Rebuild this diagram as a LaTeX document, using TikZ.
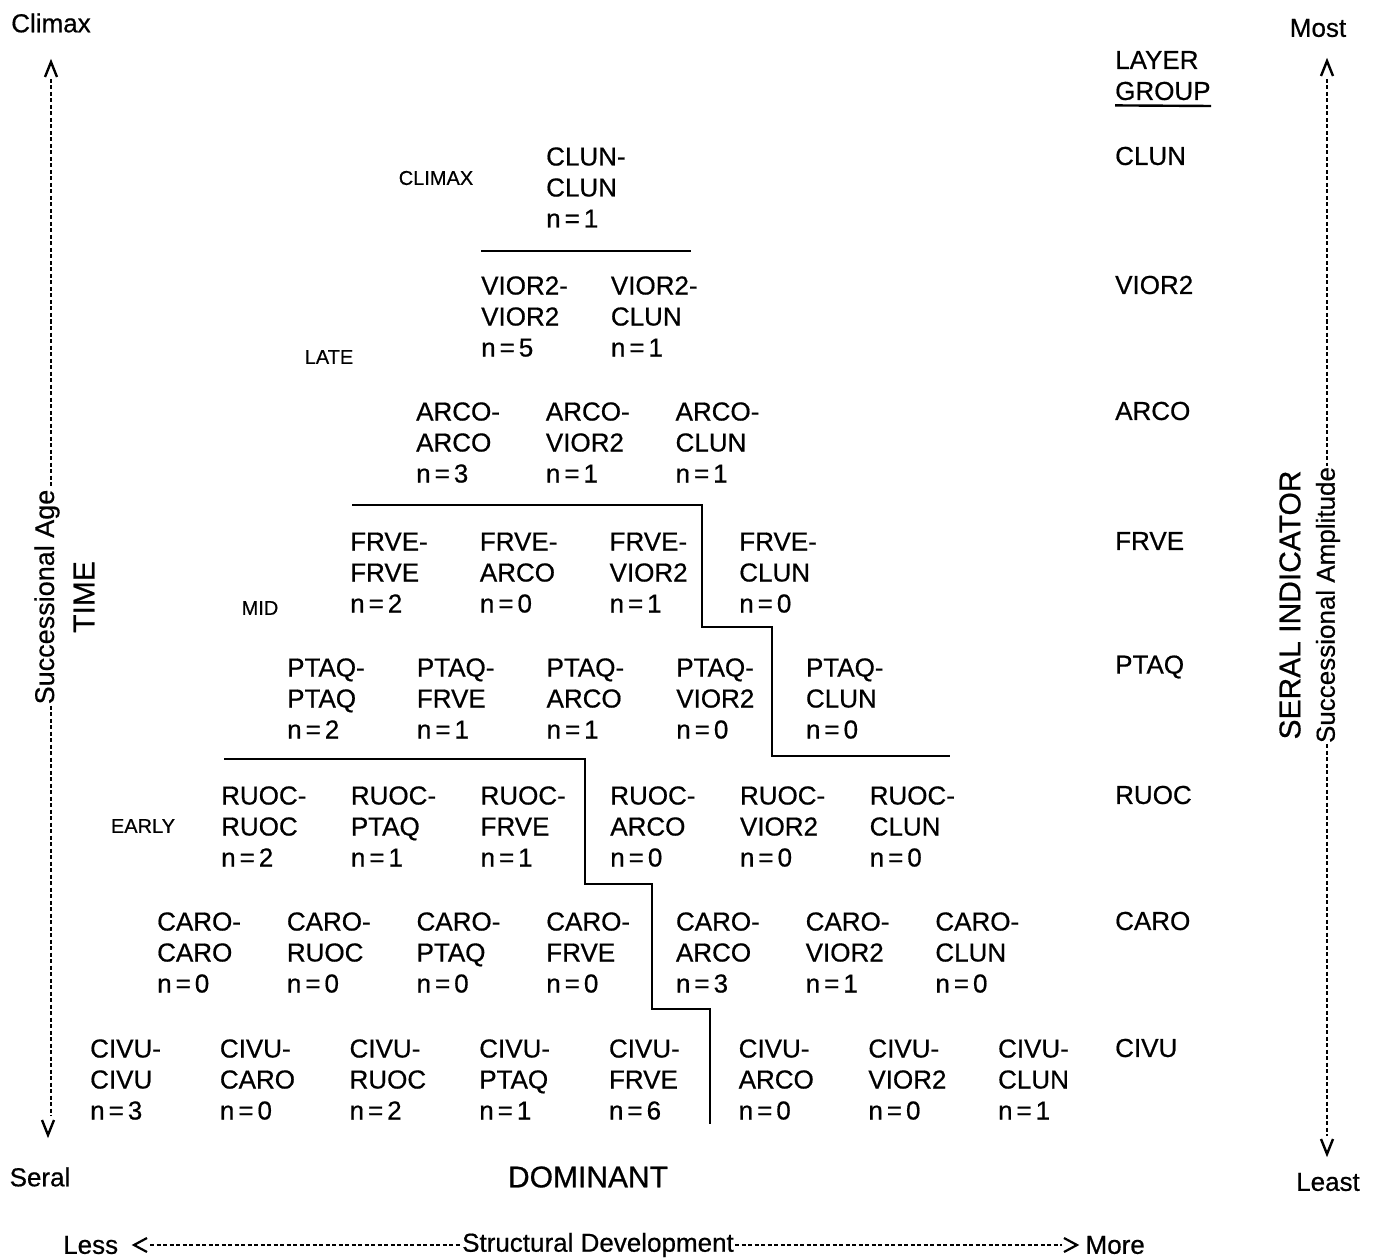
\documentclass[tikz,border=0pt]{standalone}
\usepackage{fontspec}
\setmainfont{Liberation Sans}[FakeBold=0.6]
\begin{document}
\begin{tikzpicture}[x=1pt,y=-1pt,
  cell/.style={anchor=west,align=left,inner sep=0pt,font=\fontsize{26}{31}\selectfont},
  group/.style={anchor=west,inner sep=0pt,font=\fontsize{26}{31}\selectfont},
  stage/.style={inner sep=0pt,font=\fontsize{20}{24}\selectfont},
  axislabel/.style={inner sep=1pt,font=\fontsize{26}{31}\selectfont},
  bigtitle/.style={inner sep=0pt,font=\fontsize{30}{36}\selectfont},
  divider/.style={line width=2.6pt},
  dotted axis/.style={line width=2.4pt,dash pattern=on 4pt off 2.5pt},
  chevron/.style={line width=2.4pt,line join=miter}
]
\useasboundingbox (0,0) rectangle (1374,1260);

% fixed line height so every cell box has the same size
\def\ls{\rule[-6pt]{0pt}{25pt}}
% count label with open spacing round the equals sign
\def\cnt#1{n\kern4pt=\kern4pt#1}

% species, ordered from seral to climax
\def\species{{"CIVU","CARO","RUOC","PTAQ","FRVE","ARCO","VIOR2","CLUN"}}

% dominant / layer-group cells with plot counts
\foreach \r/\xs/\ys/\counts in {
    0/90/1048/{3,0,2,1,6,0,0,1},
    1/157/921/{0,0,0,0,3,1,0},
    2/221/795/{2,1,1,0,0,0},
    3/287/667/{2,1,1,0,0},
    4/350/541/{2,0,1,0},
    5/416/411/{3,1,1},
    6/481/285/{5,1},
    7/546/156/{1}}{
  \pgfmathparse{\species[\r]}\let\first\pgfmathresult
  \foreach \n [count=\c from 0] in \counts {
    \pgfmathtruncatemacro\k{\r+\c}
    \pgfmathparse{\species[\k]}\let\second\pgfmathresult
    \node[cell] (c\r\c) at ({\xs+129.7*\c},{\ys+34}) {\ls\first-\\\ls\second\\\ls\cnt{\n}};
  }
}

% layer group column
\node[group] (hdrA) at (1115,60) {LAYER};
\node[group] (hdrB) at (1115,91) {GROUP};
\draw[line width=2.4pt] (hdrB.south west) ++(0,5) coordinate (ulA) -- (1211,106) coordinate (ulB);
\foreach \s/\y in {CIVU/1048,CARO/921,RUOC/795,PTAQ/667,FRVE/541,ARCO/411,VIOR2/285,CLUN/156}
  \node[group] (g\s) at (1115,\y) {\s};

% successional stages
\node[stage] (climax) at (436,178) {CLIMAX};
\node[stage] (late) at (329,357) {LATE};
\node[stage] (mid) at (260,608) {MID};
\node[stage] (early) at (143,826) {EARLY};

% stage boundaries
\draw[divider] (481,251) -- (691,251);
\draw[divider] (352,505) -| (702,627) -| (772,756) -- (950,756);
\draw[divider] (224,759) -| (585,884) -| (652,1009) -| (710,1124);

% left axis: time
\node[axislabel] (climaxlbl) at (51,23) {Climax};
\node[axislabel] (serallbl) at (40,1177) {Seral};
\node[axislabel,rotate=90,font=\fontsize{27}{32}\selectfont] (sage) at (47,597) {Successional Age};
\node[bigtitle,rotate=90] (time) at (84,597) {TIME};
\coordinate (lt) at (51,79);
\coordinate (lb) at (51,1116);
\draw[dotted axis] (lt) -- (lt |- sage.east);
\draw[dotted axis] (lb |- sage.west) -- (lb);
\draw[chevron] (45,77) -- (51,62) -- (57,77);
\draw[chevron] (42,1120) -- (48,1135) -- (54,1120);

% right axis: seral indicator
\node[axislabel] (most) at (1318,28) {Most};
\node[axislabel] (least) at (1328,1182) {Least};
\node[axislabel,rotate=90] (samp) at (1328,605) {Successional Amplitude};
\node[bigtitle,rotate=90] (seral) at (1290,605) {SERAL INDICATOR};
\coordinate (rt) at (1327,79);
\coordinate (rb) at (1327,1136);
\draw[dotted axis] (rt) -- (rt |- samp.east);
\draw[dotted axis] (rb |- samp.west) -- (rb);
\draw[chevron] (1321,76) -- (1327,61) -- (1333,76);
\draw[chevron] (1321,1139) -- (1327,1154) -- (1333,1139);

% bottom axis: structural development
\node[bigtitle] (dominant) at (588,1177) {DOMINANT};
\node[axislabel] (sdev) at (598,1245) {Structural Development};
\node[axislabel,anchor=west] (less) at (62,1245) {Less};
\node[axislabel,anchor=east] (more) at (1146,1245) {More};
\coordinate (bl) at (150,1245);
\coordinate (br) at (1062,1245);
\draw[dotted axis,line width=2pt] (bl) -- (sdev.west);
\draw[dotted axis,line width=2pt] (sdev.east) -- (br);
\draw[chevron,line width=2.2pt] (147,1238) -- (134,1245) -- (147,1252);
\draw[chevron,line width=2.2pt] (1064,1238) -- (1077,1245) -- (1064,1252);
\end{tikzpicture}
\end{document}
